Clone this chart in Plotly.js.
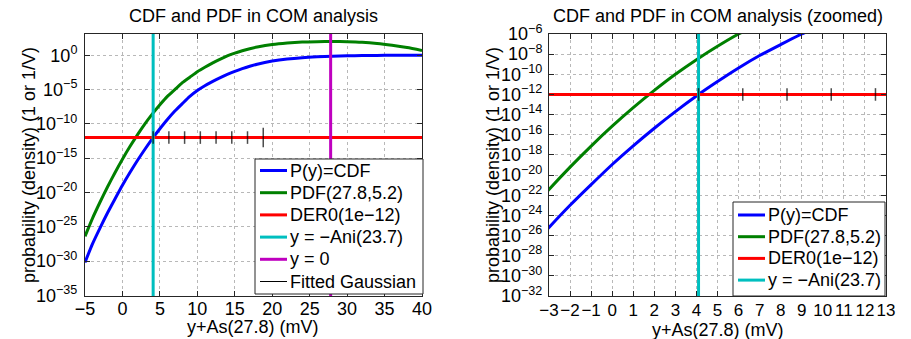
<!DOCTYPE html>
<html><head><meta charset="utf-8">
<script src="https://cdn.plot.ly/plotly-3.0.1.min.js"></script>
<style>html,body{margin:0;padding:0;background:#fff;} #chart{width:911px;height:339px;}</style>
</head><body><div id="chart"></div>
<script>
// ---- data (log10 of the plotted value) ----
const xGrid = [-5,-4,-3,-2,-1,0,1,2,3,4,5,6,7,8,9,10,11,12,13,14,15,16,17,18,20,22,24,26,28,30,32,34,36,38,40];
const cdfLog10 = [-30.2,-27.5,-25.2,-23.0,-20.95,-18.95,-17.1,-15.35,-13.7,-12.15,-10.72,-9.37,-8.14,-7.05,-6.0,-5.15,-4.45,-3.85,-3.3,-2.8,-2.35,-1.95,-1.6,-1.3,-0.85,-0.55,-0.35,-0.22,-0.13,-0.08,-0.04,-0.02,-0.01,0,0];
const pdfLog10 = [-26.4,-23.77,-21.43,-19.21,-17.12,-15.15,-13.31,-11.6,-10.0,-8.55,-7.22,-6.0,-5.0,-4.0,-3.2,-2.4,-1.75,-1.15,-0.6,-0.1,0.3,0.65,0.95,1.2,1.58,1.8,1.93,1.98,2.0,1.98,1.9,1.72,1.45,1.12,0.7];
const derLevel = 1e-12;
const derX = [-5, 40];
const aniX = 4.1;
const zeroX = 27.8;
const fitTickX = [4.1, 6.2, 8.3, 10.4, 12.5, 14.6, 16.7, 18.8];
const fitTickSize = [9, 9, 9, 9, 9, 9, 9, 14];
const vertSpanY = [1e-40, 1e5];
const leftYTickExp = [-35, -30, -25, -20, -15, -10, -5, 0];
const rightYTickExp = [-32, -30, -28, -26, -24, -22, -20, -18, -16, -14, -12, -10, -8, -6];
const traceNames = ['P(y)=CDF', 'PDF(27.8,5.2)', 'DER0(1e\u221212)', 'y = \u2212Ani(23.7)', 'y = 0', 'Fitted Gaussian'];
const colors = ['#0000FF', '#008000', '#FF0000', '#00BFBF', '#BF00BF', '#404040'];
const lineWidths = [3, 3, 3, 3, 3, 1];
const titles = ['CDF and PDF in COM analysis', 'CDF and PDF in COM analysis (zoomed)'];
const xTitle = 'y+As(27.8) (mV)';
const yTitle = 'probability (density) (1 or 1/V)';

// ---- build ----
const W = 911, H = 339;
const FONT = 'Liberation Sans, Arial, Helvetica, sans-serif';
const pow10 = a => a.map(v => Math.pow(10, v));
const cdfY = pow10(cdfLog10), pdfY = pow10(pdfLog10);
const tickText = e => e.map(v => '10<sup>' + (v < 0 ? '\u2212' : '') + Math.abs(v) + '</sup>');
const px = v => v / W, py = v => 1 - v / H;

function makeTraces(xa, ya, withMag) {
  const t = [];
  t.push({x: xGrid, y: cdfY, xaxis: xa, yaxis: ya, name: traceNames[0], mode: 'lines', line: {color: colors[0], width: 3, shape: 'spline', smoothing: 0.6}});
  t.push({x: xGrid, y: pdfY, xaxis: xa, yaxis: ya, name: traceNames[1], mode: 'lines', line: {color: colors[1], width: 3, shape: 'spline', smoothing: 0.6}});
  t.push({x: derX, y: derX.map(() => derLevel), xaxis: xa, yaxis: ya, name: traceNames[2], mode: 'lines', line: {color: colors[2], width: 3}});
  t.push({x: vertSpanY.map(() => aniX), y: vertSpanY, xaxis: xa, yaxis: ya, name: traceNames[3], mode: 'lines', line: {color: colors[3], width: 3}});
  if (withMag) t.push({x: vertSpanY.map(() => zeroX), y: vertSpanY, xaxis: xa, yaxis: ya, name: traceNames[4], mode: 'lines', line: {color: colors[4], width: 3}});
  t.push({x: fitTickX, y: fitTickX.map(() => derLevel), xaxis: xa, yaxis: ya, name: traceNames[5], mode: 'markers',
          marker: {symbol: 'line-ns', size: fitTickSize, color: '#000', line: {color: '#000', width: 1.5}}});
  return t;
}
const data = [...makeTraces('x', 'y', true), ...makeTraces('x2', 'y2', false)].map(t => Object.assign(t, {showlegend: false}));

// hand-drawn MATLAB-style legend boxes (positions in pixels)
const shapes = [], annotations = [];
function legendBox(x0, x1, y0, y1, firstRow, rowH, lineX0, lineX1, textX, count) {
  shapes.push({type: 'rect', xref: 'paper', yref: 'paper', x0: px(x0), x1: px(x1), y0: py(y1), y1: py(y0),
               fillcolor: '#fff', line: {color: '#262626', width: 1}, layer: 'above'});
  for (let i = 0; i < count; i++) {
    const yc = firstRow + rowH * i;
    shapes.push({type: 'line', xref: 'paper', yref: 'paper', x0: px(lineX0), x1: px(lineX1), y0: py(yc), y1: py(yc),
                 line: {color: i === 5 ? '#000' : colors[i], width: lineWidths[i]}, layer: 'above'});
    annotations.push({text: traceNames[i], xref: 'paper', yref: 'paper', x: px(textX), y: py(yc), xanchor: 'left', yanchor: 'middle',
                      showarrow: false, font: {family: FONT, size: 18, color: '#000'}});
  }
}
legendBox(255, 423, 159, 294, 170.5, 22.2, 260, 287, 288, 6);
legendBox(733, 885, 202, 296, 215, 21.7, 738, 765, 766, 4);

const axisCommon = {
  showline: true, linecolor: '#262626', linewidth: 1, mirror: 'ticks',
  ticks: 'inside', ticklen: 5, tickcolor: '#262626', tickwidth: 1,
  showgrid: true, gridcolor: '#b8b8b8', griddash: 'dot', gridwidth: 1,
  zeroline: false, tickangle: 0,
  tickfont: {family: FONT, size: 18, color: '#000'}
};
const yDom = [py(296), py(34)];
const tfont = {family: FONT, size: 18, color: '#000'};
annotations.push(
  {text: titles[0], xref: 'paper', yref: 'paper', x: px((85 + 422) / 2), y: py(16), xanchor: 'center', yanchor: 'middle', showarrow: false, font: tfont},
  {text: titles[1], xref: 'paper', yref: 'paper', x: px((549 + 886) / 2), y: py(16), xanchor: 'center', yanchor: 'middle', showarrow: false, font: tfont},
  {text: xTitle, xref: 'paper', yref: 'paper', x: px((85 + 422) / 2), y: py(327), xanchor: 'center', yanchor: 'middle', showarrow: false, font: tfont},
  {text: xTitle, xref: 'paper', yref: 'paper', x: px((549 + 886) / 2), y: py(330), xanchor: 'center', yanchor: 'middle', showarrow: false, font: tfont},
  {text: yTitle, xref: 'paper', yref: 'paper', x: px(29), y: (yDom[0] + yDom[1]) / 2, xanchor: 'center', yanchor: 'middle', textangle: -90, showarrow: false, font: tfont},
  {text: yTitle, xref: 'paper', yref: 'paper', x: px(493), y: (yDom[0] + yDom[1]) / 2, xanchor: 'center', yanchor: 'middle', textangle: -90, showarrow: false, font: tfont}
);

const layout = {
  width: W, height: H, margin: {l: 0, r: 0, t: 0, b: 0},
  paper_bgcolor: '#fff', plot_bgcolor: '#fff', font: {family: FONT, color: '#000'},
  showlegend: false,
  xaxis: Object.assign({}, axisCommon, {domain: [px(85), px(422)], range: [-5, 40], dtick: 5, tick0: 0, anchor: 'y', ticklabelstandoff: -4}),
  yaxis: Object.assign({}, axisCommon, {domain: yDom, type: 'log', range: [-35.1, 3.1], tickvals: pow10(leftYTickExp), ticktext: tickText(leftYTickExp), anchor: 'x', ticklabelstandoff: 3}),
  xaxis2: Object.assign({}, axisCommon, {domain: [px(549), px(886)], range: [-3, 13], dtick: 1, tick0: 0, anchor: 'y2', ticklabelstandoff: -1,
                                          tickfont: {family: FONT, size: 17, color: '#000'}}),
  yaxis2: Object.assign({}, axisCommon, {domain: yDom, type: 'log', range: [-32, -6], tickvals: pow10(rightYTickExp), ticktext: tickText(rightYTickExp), anchor: 'x2', ticklabelstandoff: 2}),
  shapes: shapes,
  annotations: annotations
};
Plotly.newPlot('chart', data, layout, {staticPlot: true, displayModeBar: false});
</script></body></html>
